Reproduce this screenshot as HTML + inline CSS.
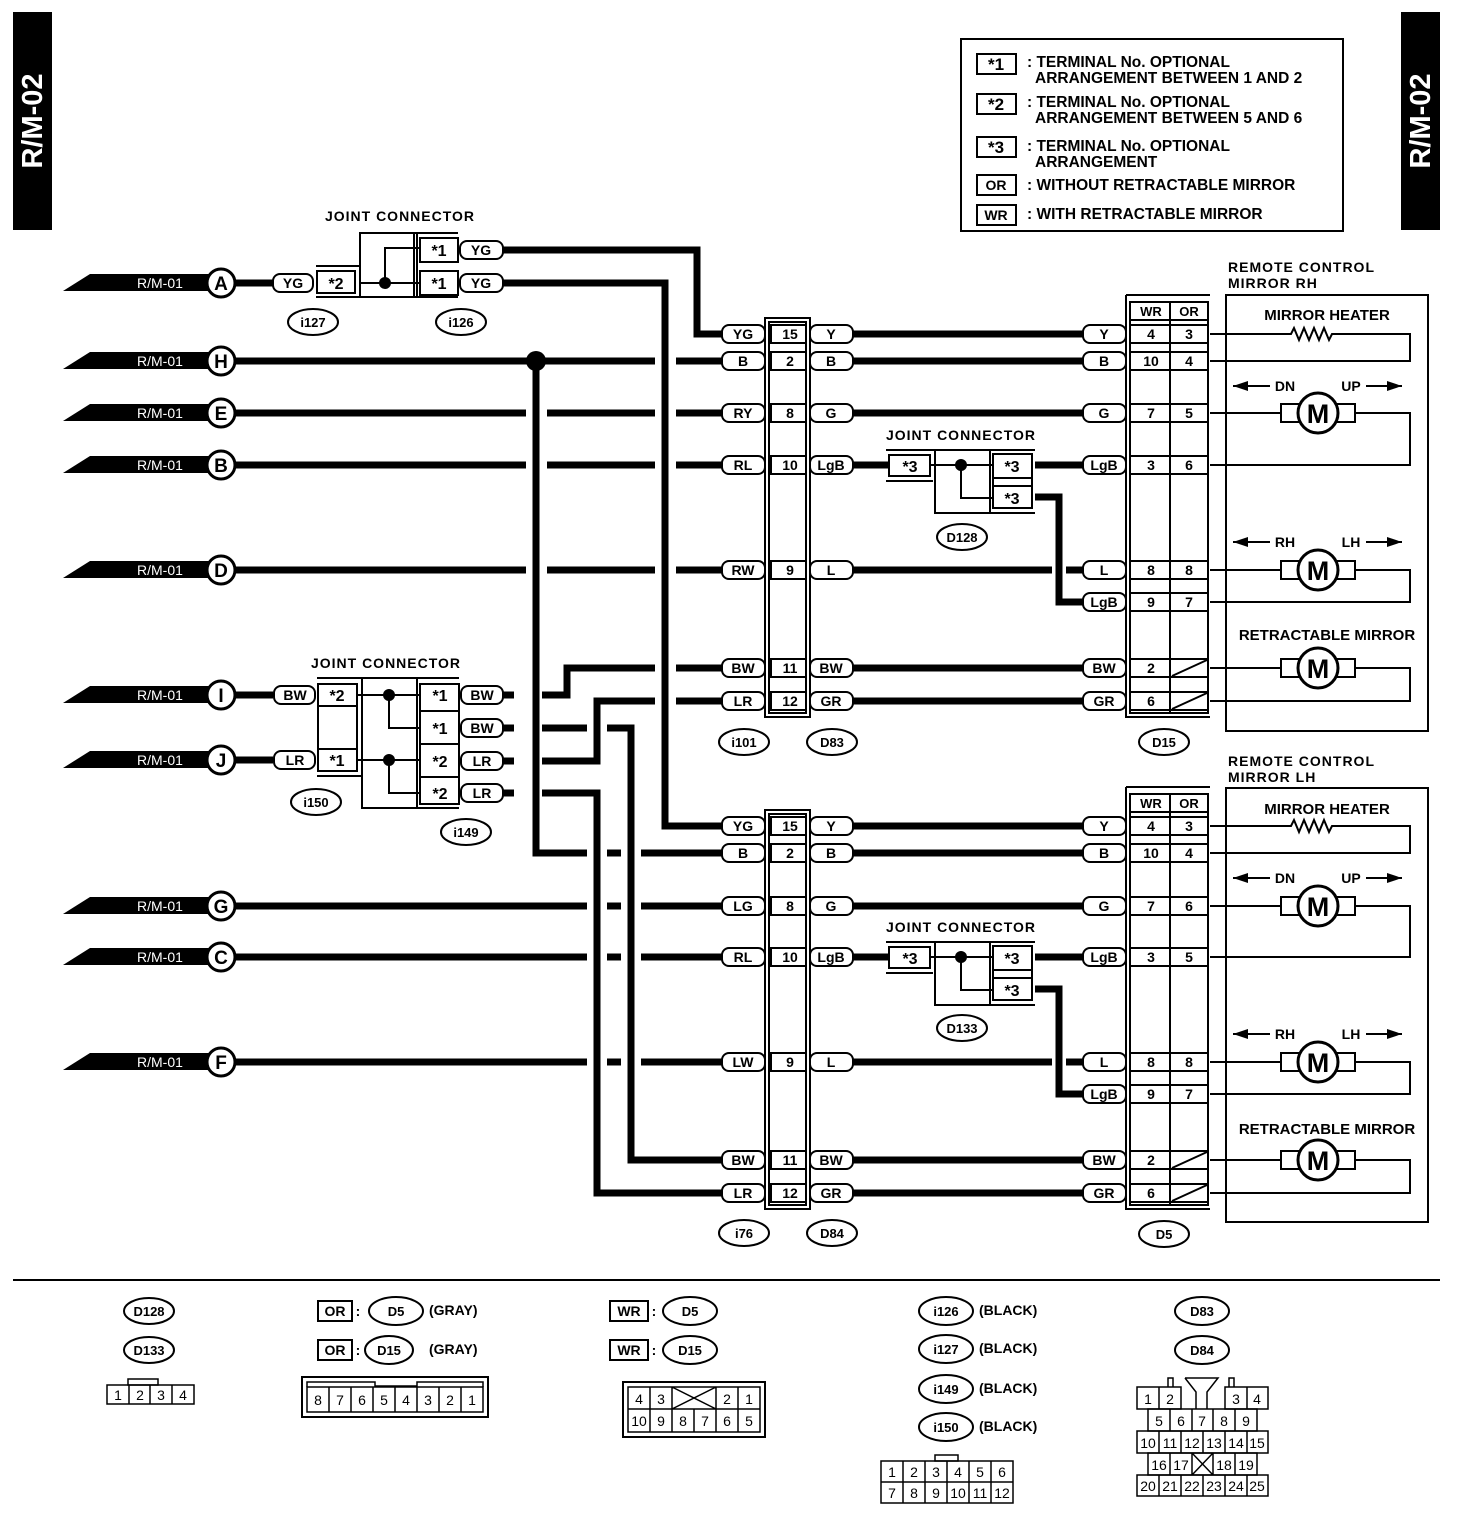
<!DOCTYPE html>
<html><head><meta charset="utf-8"><style>
html,body{margin:0;padding:0;background:#fff}
svg{display:block}
text{font-family:"Liberation Sans",Arial,sans-serif;font-weight:bold;fill:#000}
.w{stroke:#000;stroke-width:7;fill:none}
.t{stroke:#000;stroke-width:2;fill:none}
.p{fill:#fff;stroke:#000;stroke-width:2}
.g{fill:#fff;stroke:none}
.c{text-anchor:middle;font-size:14px}
.s{font-size:14px}
.l{font-size:15.5px}
</style></head><body>
<svg width="1472" height="1518" viewBox="0 0 1472 1518" xmlns="http://www.w3.org/2000/svg">
<!-- side tabs -->
<rect x="13" y="12" width="39" height="218" fill="#000"/>
<text transform="translate(42,121) rotate(-90)" text-anchor="middle" style="fill:#fff;font-size:29px">R/M-02</text>
<rect x="1401" y="12" width="39" height="218" fill="#000"/>
<text transform="translate(1430,121) rotate(-90)" text-anchor="middle" style="fill:#fff;font-size:29px">R/M-02</text>

<!-- legend -->
<rect x="961" y="39" width="382" height="192" class="t"/>
<rect x="977" y="54" width="39" height="20" class="t"/><text x="996" y="70" class="c" style="font-size:17px">*1</text>
<text x="1027" y="67" class="l">: TERMINAL No. OPTIONAL</text><text x="1035" y="83" class="l">ARRANGEMENT BETWEEN 1 AND 2</text>
<rect x="977" y="94" width="39" height="20" class="t"/><text x="996" y="110" class="c" style="font-size:17px">*2</text>
<text x="1027" y="107" class="l">: TERMINAL No. OPTIONAL</text><text x="1035" y="123" class="l">ARRANGEMENT BETWEEN 5 AND 6</text>
<rect x="977" y="137" width="39" height="20" class="t"/><text x="996" y="153" class="c" style="font-size:17px">*3</text>
<text x="1027" y="151" class="l">: TERMINAL No. OPTIONAL</text><text x="1035" y="167" class="l">ARRANGEMENT</text>
<rect x="977" y="175" width="39" height="20" class="t"/><text x="996" y="190" class="c">OR</text>
<text x="1027" y="190" class="l">: WITHOUT RETRACTABLE MIRROR</text>
<rect x="977" y="205" width="39" height="20" class="t"/><text x="996" y="220" class="c">WR</text>
<text x="1027" y="219" class="l">: WITH RETRACTABLE MIRROR</text>

<!-- long horizontal wires -->
<g class="w">
<path d="M235 283H273"/>
<path d="M235 361H722"/><path d="M235 413H722"/><path d="M235 465H722"/><path d="M235 570H722"/>
<path d="M235 695H273"/><path d="M235 760H273"/>
<path d="M235 906H722"/><path d="M235 957H722"/><path d="M235 1062H722"/>
<path d="M503 250H697V334H722"/>
<path d="M503 283H665V826H722"/>
<path d="M503 695H567V668H722"/>
<path d="M503 728H631V1160H722"/>
<path d="M503 761H597V701H722"/>
<path d="M503 793H597V1193H722"/>
<path d="M536 361V853H722"/>
</g>
<!-- gaps -->
<g class="g">
<rect x="655" y="354" width="21" height="14"/><rect x="655" y="406" width="21" height="14"/><rect x="655" y="458" width="21" height="14"/><rect x="655" y="563" width="21" height="14"/><rect x="655" y="661" width="21" height="14"/><rect x="655" y="694" width="21" height="14"/>
<rect x="526" y="406" width="21" height="14"/><rect x="526" y="458" width="21" height="14"/><rect x="526" y="563" width="21" height="14"/>
<rect x="514" y="688" width="28" height="14"/><rect x="514" y="721" width="28" height="14"/><rect x="514" y="754" width="28" height="14"/><rect x="514" y="786" width="28" height="14"/>
<rect x="587" y="721" width="20" height="14"/><rect x="587" y="846" width="20" height="14"/><rect x="587" y="899" width="20" height="14"/><rect x="587" y="950" width="20" height="14"/><rect x="587" y="1055" width="20" height="14"/>
<rect x="621" y="846" width="20" height="14"/><rect x="621" y="899" width="20" height="14"/><rect x="621" y="950" width="20" height="14"/><rect x="621" y="1055" width="20" height="14"/>
</g>
<g class="w">
<path d="M536 361V853"/><path d="M665 283V826"/><path d="M597 701V761"/><path d="M597 793V1193"/><path d="M631 728V1160"/>
</g>
<circle cx="536" cy="361" r="10" fill="#000"/>

<!-- R/M-01 tabs -->
<g>
<polygon points="63,291 90,274 212,274 212,291" fill="#000"/><text x="137" y="288" style="fill:#fff;font-size:14px;font-weight:normal">R/M-01</text><circle cx="221" cy="283" r="14" class="p" style="stroke-width:3"/><text x="221" y="290" class="c" style="font-size:19px">A</text>
<polygon points="63,369 90,352 212,352 212,369" fill="#000"/><text x="137" y="366" style="fill:#fff;font-size:14px;font-weight:normal">R/M-01</text><circle cx="221" cy="361" r="14" class="p" style="stroke-width:3"/><text x="221" y="368" class="c" style="font-size:19px">H</text>
<polygon points="63,421 90,404 212,404 212,421" fill="#000"/><text x="137" y="418" style="fill:#fff;font-size:14px;font-weight:normal">R/M-01</text><circle cx="221" cy="413" r="14" class="p" style="stroke-width:3"/><text x="221" y="420" class="c" style="font-size:19px">E</text>
<polygon points="63,473 90,456 212,456 212,473" fill="#000"/><text x="137" y="470" style="fill:#fff;font-size:14px;font-weight:normal">R/M-01</text><circle cx="221" cy="465" r="14" class="p" style="stroke-width:3"/><text x="221" y="472" class="c" style="font-size:19px">B</text>
<polygon points="63,578 90,561 212,561 212,578" fill="#000"/><text x="137" y="575" style="fill:#fff;font-size:14px;font-weight:normal">R/M-01</text><circle cx="221" cy="570" r="14" class="p" style="stroke-width:3"/><text x="221" y="577" class="c" style="font-size:19px">D</text>
<polygon points="63,703 90,686 212,686 212,703" fill="#000"/><text x="137" y="700" style="fill:#fff;font-size:14px;font-weight:normal">R/M-01</text><circle cx="221" cy="695" r="14" class="p" style="stroke-width:3"/><text x="221" y="702" class="c" style="font-size:19px">I</text>
<polygon points="63,768 90,751 212,751 212,768" fill="#000"/><text x="137" y="765" style="fill:#fff;font-size:14px;font-weight:normal">R/M-01</text><circle cx="221" cy="760" r="14" class="p" style="stroke-width:3"/><text x="221" y="767" class="c" style="font-size:19px">J</text>
<polygon points="63,914 90,897 212,897 212,914" fill="#000"/><text x="137" y="911" style="fill:#fff;font-size:14px;font-weight:normal">R/M-01</text><circle cx="221" cy="906" r="14" class="p" style="stroke-width:3"/><text x="221" y="913" class="c" style="font-size:19px">G</text>
<polygon points="63,965 90,948 212,948 212,965" fill="#000"/><text x="137" y="962" style="fill:#fff;font-size:14px;font-weight:normal">R/M-01</text><circle cx="221" cy="957" r="14" class="p" style="stroke-width:3"/><text x="221" y="964" class="c" style="font-size:19px">C</text>
<polygon points="63,1070 90,1053 212,1053 212,1070" fill="#000"/><text x="137" y="1067" style="fill:#fff;font-size:14px;font-weight:normal">R/M-01</text><circle cx="221" cy="1062" r="14" class="p" style="stroke-width:3"/><text x="221" y="1069" class="c" style="font-size:19px">F</text>
</g>

<!-- joint connector i127/i126 -->
<text x="400" y="221" class="c" style="letter-spacing:1px">JOINT CONNECTOR</text>
<rect x="273" y="274" width="40" height="18" rx="7" class="p"/><text x="293" y="288" class="c">YG</text>
<path d="M316 266H360M316 297H458M360 233H458" class="t"/>
<rect x="317" y="271" width="38" height="22" class="t"/><text x="336" y="289" class="c" style="font-size:16px">*2</text>
<rect x="360" y="233" width="54" height="64" class="t"/>
<path d="M360 283H420M385 283V248H420M417 233V297" class="t"/>
<circle cx="385" cy="283" r="6" fill="#000"/>
<rect x="420" y="238" width="38" height="24" class="t"/><text x="439" y="256" class="c" style="font-size:16px">*1</text>
<rect x="420" y="271" width="38" height="24" class="t"/><text x="439" y="289" class="c" style="font-size:16px">*1</text>
<rect x="460" y="241" width="43" height="18" rx="7" class="p"/><text x="481" y="255" class="c">YG</text>
<rect x="460" y="274" width="43" height="18" rx="7" class="p"/><text x="481" y="288" class="c">YG</text>
<ellipse cx="313" cy="322" rx="25" ry="13" class="p"/><text x="313" y="327" class="c" style="font-size:13px">i127</text>
<ellipse cx="461" cy="322" rx="25" ry="13" class="p"/><text x="461" y="327" class="c" style="font-size:13px">i126</text>

<!-- joint connector i150/i149 -->
<text x="386" y="668" class="c" style="letter-spacing:1px">JOINT CONNECTOR</text>
<rect x="274" y="686" width="41" height="18" rx="7" class="p"/><text x="295" y="700" class="c">BW</text>
<rect x="274" y="751" width="41" height="18" rx="7" class="p"/><text x="295" y="765" class="c">LR</text>
<path d="M317 678H459M317 776H362M362 808H459" class="t"/>
<rect x="318" y="684" width="39" height="22" class="t"/><text x="337" y="701" class="c" style="font-size:16px">*2</text>
<rect x="318" y="749" width="39" height="22" class="t"/><text x="337" y="766" class="c" style="font-size:16px">*1</text>
<path d="M318 706V749M357 706V749" class="t"/>
<rect x="362" y="678" width="55" height="130" class="t"/>
<path d="M357 695H420M389 695V728H420M357 760H420M389 760V793H420" class="t"/>
<circle cx="389" cy="695" r="6" fill="#000"/><circle cx="389" cy="760" r="6" fill="#000"/>
<rect x="420" y="684" width="39" height="120" class="t"/>
<path d="M420 711H459M420 744H459M420 777H459" class="t"/>
<text x="440" y="701" class="c" style="font-size:16px">*1</text><text x="440" y="734" class="c" style="font-size:16px">*1</text><text x="440" y="767" class="c" style="font-size:16px">*2</text><text x="440" y="799" class="c" style="font-size:16px">*2</text>
<rect x="461" y="686" width="42" height="18" rx="7" class="p"/><text x="482" y="700" class="c">BW</text>
<rect x="461" y="719" width="42" height="18" rx="7" class="p"/><text x="482" y="733" class="c">BW</text>
<rect x="461" y="752" width="42" height="18" rx="7" class="p"/><text x="482" y="766" class="c">LR</text>
<rect x="461" y="784" width="42" height="18" rx="7" class="p"/><text x="482" y="798" class="c">LR</text>
<ellipse cx="316" cy="802" rx="25" ry="13" class="p"/><text x="316" y="807" class="c" style="font-size:13px">i150</text>
<ellipse cx="466" cy="832" rx="25" ry="13" class="p"/><text x="466" y="837" class="c" style="font-size:13px">i149</text>

<!-- right wires -->
<g class="w">
<path d="M853 334H1083M853 361H1083M853 413H1083M853 465H889M1035 465H1083M853 570H1052M1066 570H1083M1035 497H1059V602H1083M853 668H1083M853 701H1083"/>
<path d="M853 826H1083M853 853H1083M853 906H1083M853 957H889M1035 957H1083M853 1062H1052M1066 1062H1083M1035 989H1059V1094H1083M853 1160H1083M853 1193H1083"/>
</g>

<!-- i101/D83 connector -->
<g>
<rect x="765" y="318" width="45" height="399" class="t"/><rect x="769" y="322" width="37" height="391" class="t"/>
<rect x="722" y="325" width="43" height="18" rx="7" class="p"/><text x="743" y="339" class="c">YG</text><rect x="771" y="325" width="35" height="18" class="p"/><text x="790" y="339" class="c">15</text><rect x="810" y="325" width="43" height="18" rx="7" class="p"/><text x="831" y="339" class="c">Y</text>
<rect x="722" y="352" width="43" height="18" rx="7" class="p"/><text x="743" y="366" class="c">B</text><rect x="771" y="352" width="35" height="18" class="p"/><text x="790" y="366" class="c">2</text><rect x="810" y="352" width="43" height="18" rx="7" class="p"/><text x="831" y="366" class="c">B</text>
<rect x="722" y="404" width="43" height="18" rx="7" class="p"/><text x="743" y="418" class="c">RY</text><rect x="771" y="404" width="35" height="18" class="p"/><text x="790" y="418" class="c">8</text><rect x="810" y="404" width="43" height="18" rx="7" class="p"/><text x="831" y="418" class="c">G</text>
<rect x="722" y="456" width="43" height="18" rx="7" class="p"/><text x="743" y="470" class="c">RL</text><rect x="771" y="456" width="35" height="18" class="p"/><text x="790" y="470" class="c">10</text><rect x="810" y="456" width="43" height="18" rx="7" class="p"/><text x="831" y="470" class="c">LgB</text>
<rect x="722" y="561" width="43" height="18" rx="7" class="p"/><text x="743" y="575" class="c">RW</text><rect x="771" y="561" width="35" height="18" class="p"/><text x="790" y="575" class="c">9</text><rect x="810" y="561" width="43" height="18" rx="7" class="p"/><text x="831" y="575" class="c">L</text>
<rect x="722" y="659" width="43" height="18" rx="7" class="p"/><text x="743" y="673" class="c">BW</text><rect x="771" y="659" width="35" height="18" class="p"/><text x="790" y="673" class="c">11</text><rect x="810" y="659" width="43" height="18" rx="7" class="p"/><text x="831" y="673" class="c">BW</text>
<rect x="722" y="692" width="43" height="18" rx="7" class="p"/><text x="743" y="706" class="c">LR</text><rect x="771" y="692" width="35" height="18" class="p"/><text x="790" y="706" class="c">12</text><rect x="810" y="692" width="43" height="18" rx="7" class="p"/><text x="831" y="706" class="c">GR</text>
<ellipse cx="744" cy="742" rx="25" ry="13" class="p"/><text x="744" y="747" class="c" style="font-size:13px">i101</text>
<ellipse cx="832" cy="742" rx="25" ry="13" class="p"/><text x="832" y="747" class="c" style="font-size:13px">D83</text>
</g>
<!-- i76/D84 connector -->
<g>
<rect x="765" y="810" width="45" height="399" class="t"/><rect x="769" y="814" width="37" height="391" class="t"/>
<rect x="722" y="817" width="43" height="18" rx="7" class="p"/><text x="743" y="831" class="c">YG</text><rect x="771" y="817" width="35" height="18" class="p"/><text x="790" y="831" class="c">15</text><rect x="810" y="817" width="43" height="18" rx="7" class="p"/><text x="831" y="831" class="c">Y</text>
<rect x="722" y="844" width="43" height="18" rx="7" class="p"/><text x="743" y="858" class="c">B</text><rect x="771" y="844" width="35" height="18" class="p"/><text x="790" y="858" class="c">2</text><rect x="810" y="844" width="43" height="18" rx="7" class="p"/><text x="831" y="858" class="c">B</text>
<rect x="722" y="897" width="43" height="18" rx="7" class="p"/><text x="743" y="911" class="c">LG</text><rect x="771" y="897" width="35" height="18" class="p"/><text x="790" y="911" class="c">8</text><rect x="810" y="897" width="43" height="18" rx="7" class="p"/><text x="831" y="911" class="c">G</text>
<rect x="722" y="948" width="43" height="18" rx="7" class="p"/><text x="743" y="962" class="c">RL</text><rect x="771" y="948" width="35" height="18" class="p"/><text x="790" y="962" class="c">10</text><rect x="810" y="948" width="43" height="18" rx="7" class="p"/><text x="831" y="962" class="c">LgB</text>
<rect x="722" y="1053" width="43" height="18" rx="7" class="p"/><text x="743" y="1067" class="c">LW</text><rect x="771" y="1053" width="35" height="18" class="p"/><text x="790" y="1067" class="c">9</text><rect x="810" y="1053" width="43" height="18" rx="7" class="p"/><text x="831" y="1067" class="c">L</text>
<rect x="722" y="1151" width="43" height="18" rx="7" class="p"/><text x="743" y="1165" class="c">BW</text><rect x="771" y="1151" width="35" height="18" class="p"/><text x="790" y="1165" class="c">11</text><rect x="810" y="1151" width="43" height="18" rx="7" class="p"/><text x="831" y="1165" class="c">BW</text>
<rect x="722" y="1184" width="43" height="18" rx="7" class="p"/><text x="743" y="1198" class="c">LR</text><rect x="771" y="1184" width="35" height="18" class="p"/><text x="790" y="1198" class="c">12</text><rect x="810" y="1184" width="43" height="18" rx="7" class="p"/><text x="831" y="1198" class="c">GR</text>
<ellipse cx="744" cy="1233" rx="25" ry="13" class="p"/><text x="744" y="1238" class="c" style="font-size:13px">i76</text>
<ellipse cx="832" cy="1233" rx="25" ry="13" class="p"/><text x="832" y="1238" class="c" style="font-size:13px">D84</text>
</g>

<!-- D128 joint -->
<g>
<text x="961" y="440" class="c" style="letter-spacing:1px">JOINT CONNECTOR</text>
<path d="M886 450H1035M886 481H933" class="t"/>
<rect x="889" y="455" width="41" height="21" class="t"/><text x="910" y="472" class="c" style="font-size:16px">*3</text>
<path d="M935 450V513H1035M990 450V513M930 465H993M961 465V498H993" class="t"/>
<circle cx="961" cy="465" r="6" fill="#000"/>
<rect x="993" y="454" width="39" height="54" class="t"/><path d="M993 478H1032M993 486H1032" class="t"/>
<text x="1012" y="472" class="c" style="font-size:16px">*3</text><text x="1012" y="504" class="c" style="font-size:16px">*3</text>
<ellipse cx="962" cy="537" rx="25" ry="13" class="p"/><text x="962" y="542" class="c" style="font-size:13px">D128</text>
</g>
<g>
<text x="961" y="932" class="c" style="letter-spacing:1px">JOINT CONNECTOR</text>
<path d="M886 942H1035M886 973H933" class="t"/>
<rect x="889" y="947" width="41" height="21" class="t"/><text x="910" y="964" class="c" style="font-size:16px">*3</text>
<path d="M935 942V1005H1035M990 942V1005M930 957H993M961 957V990H993" class="t"/>
<circle cx="961" cy="957" r="6" fill="#000"/>
<rect x="993" y="946" width="39" height="54" class="t"/><path d="M993 970H1032M993 978H1032" class="t"/>
<text x="1012" y="964" class="c" style="font-size:16px">*3</text><text x="1012" y="996" class="c" style="font-size:16px">*3</text>
<ellipse cx="962" cy="1028" rx="25" ry="13" class="p"/><text x="962" y="1033" class="c" style="font-size:13px">D133</text>
</g>

<!-- D15 -->
<g>
<path d="M1126 295H1210M1126 295V717H1210" class="t"/>
<rect x="1130" y="302" width="78" height="411" class="t"/><path d="M1170 302V713M1130 320H1208" class="t"/>
<text x="1151" y="316" class="c" style="font-size:13px">WR</text><text x="1189" y="316" class="c" style="font-size:13px">OR</text>
<path d="M1130 325H1208M1130 343H1208M1130 352H1208M1130 370H1208M1130 404H1208M1130 422H1208M1130 456H1208M1130 474H1208M1130 561H1208M1130 579H1208M1130 593H1208M1130 611H1208M1130 659H1208M1130 677H1208M1130 692H1208M1130 710H1208" class="t"/>
<path d="M1172 676L1207 660M1172 709L1207 693" class="t"/>
<text x="1151" y="339" class="c">4</text><text x="1189" y="339" class="c">3</text>
<text x="1151" y="366" class="c">10</text><text x="1189" y="366" class="c">4</text>
<text x="1151" y="418" class="c">7</text><text x="1189" y="418" class="c">5</text>
<text x="1151" y="470" class="c">3</text><text x="1189" y="470" class="c">6</text>
<text x="1151" y="575" class="c">8</text><text x="1189" y="575" class="c">8</text>
<text x="1151" y="607" class="c">9</text><text x="1189" y="607" class="c">7</text>
<text x="1151" y="673" class="c">2</text><text x="1151" y="706" class="c">6</text>
<rect x="1083" y="325" width="43" height="18" rx="7" class="p"/><text x="1104" y="339" class="c">Y</text>
<rect x="1083" y="352" width="43" height="18" rx="7" class="p"/><text x="1104" y="366" class="c">B</text>
<rect x="1083" y="404" width="43" height="18" rx="7" class="p"/><text x="1104" y="418" class="c">G</text>
<rect x="1083" y="456" width="43" height="18" rx="7" class="p"/><text x="1104" y="470" class="c">LgB</text>
<rect x="1083" y="561" width="43" height="18" rx="7" class="p"/><text x="1104" y="575" class="c">L</text>
<rect x="1083" y="593" width="43" height="18" rx="7" class="p"/><text x="1104" y="607" class="c">LgB</text>
<rect x="1083" y="659" width="43" height="18" rx="7" class="p"/><text x="1104" y="673" class="c">BW</text>
<rect x="1083" y="692" width="43" height="18" rx="7" class="p"/><text x="1104" y="706" class="c">GR</text>
<ellipse cx="1164" cy="742" rx="25" ry="13" class="p"/><text x="1164" y="747" class="c" style="font-size:13px">D15</text>
</g>
<!-- D5 -->
<g>
<path d="M1126 787H1210M1126 787V1209H1210" class="t"/>
<rect x="1130" y="794" width="78" height="411" class="t"/><path d="M1170 794V1205M1130 812H1208" class="t"/>
<text x="1151" y="808" class="c" style="font-size:13px">WR</text><text x="1189" y="808" class="c" style="font-size:13px">OR</text>
<path d="M1130 817H1208M1130 835H1208M1130 844H1208M1130 862H1208M1130 897H1208M1130 915H1208M1130 948H1208M1130 966H1208M1130 1053H1208M1130 1071H1208M1130 1085H1208M1130 1103H1208M1130 1151H1208M1130 1169H1208M1130 1184H1208M1130 1202H1208" class="t"/>
<path d="M1172 1168L1207 1152M1172 1201L1207 1185" class="t"/>
<text x="1151" y="831" class="c">4</text><text x="1189" y="831" class="c">3</text>
<text x="1151" y="858" class="c">10</text><text x="1189" y="858" class="c">4</text>
<text x="1151" y="911" class="c">7</text><text x="1189" y="911" class="c">6</text>
<text x="1151" y="962" class="c">3</text><text x="1189" y="962" class="c">5</text>
<text x="1151" y="1067" class="c">8</text><text x="1189" y="1067" class="c">8</text>
<text x="1151" y="1099" class="c">9</text><text x="1189" y="1099" class="c">7</text>
<text x="1151" y="1165" class="c">2</text><text x="1151" y="1198" class="c">6</text>
<rect x="1083" y="817" width="43" height="18" rx="7" class="p"/><text x="1104" y="831" class="c">Y</text>
<rect x="1083" y="844" width="43" height="18" rx="7" class="p"/><text x="1104" y="858" class="c">B</text>
<rect x="1083" y="897" width="43" height="18" rx="7" class="p"/><text x="1104" y="911" class="c">G</text>
<rect x="1083" y="948" width="43" height="18" rx="7" class="p"/><text x="1104" y="962" class="c">LgB</text>
<rect x="1083" y="1053" width="43" height="18" rx="7" class="p"/><text x="1104" y="1067" class="c">L</text>
<rect x="1083" y="1085" width="43" height="18" rx="7" class="p"/><text x="1104" y="1099" class="c">LgB</text>
<rect x="1083" y="1151" width="43" height="18" rx="7" class="p"/><text x="1104" y="1165" class="c">BW</text>
<rect x="1083" y="1184" width="43" height="18" rx="7" class="p"/><text x="1104" y="1198" class="c">GR</text>
<ellipse cx="1164" cy="1234" rx="25" ry="13" class="p"/><text x="1164" y="1239" class="c" style="font-size:13px">D5</text>
</g>

<!-- mirror RH -->
<g>
<text x="1228" y="272" class="s" style="letter-spacing:1px">REMOTE CONTROL</text><text x="1228" y="288" class="s" style="letter-spacing:1px">MIRROR RH</text>
<rect x="1226" y="295" width="202" height="436" class="t"/>
<text x="1327" y="320" class="c" style="font-size:15px">MIRROR HEATER</text>
<path d="M1210 334H1291l3 -6 5 12 5 -12 5 12 5 -12 5 12 5 -12 5 12 3 -6H1410V361H1210" class="t"/>
<path d="M1233 386H1270M1366 386H1402" class="t"/><polygon points="1233,386 1248,381 1248,391"/><polygon points="1402,386 1387,381 1387,391"/>
<text x="1285" y="391" class="c">DN</text><text x="1351" y="391" class="c">UP</text>
<path d="M1210 413H1281M1355 413H1410V465H1210" class="t"/>
<rect x="1281" y="404" width="74" height="18" class="t"/><circle cx="1318" cy="413" r="20" class="p" style="stroke-width:3"/><text x="1318" y="423" class="c" style="font-size:27px">M</text>
<path d="M1233 542H1270M1366 542H1402" class="t"/><polygon points="1233,542 1248,537 1248,547"/><polygon points="1402,542 1387,537 1387,547"/>
<text x="1285" y="547" class="c">RH</text><text x="1351" y="547" class="c">LH</text>
<path d="M1210 570H1281M1355 570H1410V602H1210" class="t"/>
<rect x="1281" y="561" width="74" height="18" class="t"/><circle cx="1318" cy="570" r="20" class="p" style="stroke-width:3"/><text x="1318" y="580" class="c" style="font-size:27px">M</text>
<text x="1327" y="640" class="c" style="font-size:15px">RETRACTABLE MIRROR</text>
<path d="M1210 668H1281M1355 668H1410V701H1210" class="t"/>
<rect x="1281" y="659" width="74" height="18" class="t"/><circle cx="1318" cy="668" r="20" class="p" style="stroke-width:3"/><text x="1318" y="678" class="c" style="font-size:27px">M</text>
</g>
<!-- mirror LH -->
<g>
<text x="1228" y="766" class="s" style="letter-spacing:1px">REMOTE CONTROL</text><text x="1228" y="782" class="s" style="letter-spacing:1px">MIRROR LH</text>
<rect x="1226" y="788" width="202" height="434" class="t"/>
<text x="1327" y="814" class="c" style="font-size:15px">MIRROR HEATER</text>
<path d="M1210 826H1291l3 -6 5 12 5 -12 5 12 5 -12 5 12 5 -12 5 12 3 -6H1410V853H1210" class="t"/>
<path d="M1233 878H1270M1366 878H1402" class="t"/><polygon points="1233,878 1248,873 1248,883"/><polygon points="1402,878 1387,873 1387,883"/>
<text x="1285" y="883" class="c">DN</text><text x="1351" y="883" class="c">UP</text>
<path d="M1210 906H1281M1355 906H1410V957H1210" class="t"/>
<rect x="1281" y="897" width="74" height="18" class="t"/><circle cx="1318" cy="906" r="20" class="p" style="stroke-width:3"/><text x="1318" y="916" class="c" style="font-size:27px">M</text>
<path d="M1233 1034H1270M1366 1034H1402" class="t"/><polygon points="1233,1034 1248,1029 1248,1039"/><polygon points="1402,1034 1387,1029 1387,1039"/>
<text x="1285" y="1039" class="c">RH</text><text x="1351" y="1039" class="c">LH</text>
<path d="M1210 1062H1281M1355 1062H1410V1094H1210" class="t"/>
<rect x="1281" y="1053" width="74" height="18" class="t"/><circle cx="1318" cy="1062" r="20" class="p" style="stroke-width:3"/><text x="1318" y="1072" class="c" style="font-size:27px">M</text>
<text x="1327" y="1134" class="c" style="font-size:15px">RETRACTABLE MIRROR</text>
<path d="M1210 1160H1281M1355 1160H1410V1193H1210" class="t"/>
<rect x="1281" y="1151" width="74" height="18" class="t"/><circle cx="1318" cy="1160" r="20" class="p" style="stroke-width:3"/><text x="1318" y="1170" class="c" style="font-size:27px">M</text>
</g>

<!-- bottom -->
<path d="M13 1280H1440" stroke="#000" stroke-width="2"/>
<g style="font-size:13px">
<ellipse cx="149" cy="1311" rx="25" ry="13" class="p"/><text x="149" y="1316" class="c" style="font-size:13px">D128</text>
<ellipse cx="149" cy="1350" rx="25" ry="13" class="p"/><text x="149" y="1355" class="c" style="font-size:13px">D133</text>
<rect x="128" y="1379" width="30" height="6" class="t" style="stroke-width:1.5"/>
<rect x="107" y="1385" width="87" height="19" class="t" style="stroke-width:1.5"/>
<path d="M129 1385V1404M150 1385V1404M172 1385V1404" class="t" style="stroke-width:1.5"/>
<text x="118" y="1400" class="c" style="font-weight:normal">1</text><text x="140" y="1400" class="c" style="font-weight:normal">2</text><text x="161" y="1400" class="c" style="font-weight:normal">3</text><text x="183" y="1400" class="c" style="font-weight:normal">4</text>

<rect x="318" y="1301" width="34" height="20" class="t"/><text x="335" y="1316" class="c">OR</text><text x="358" y="1316" class="c">:</text>
<ellipse cx="396" cy="1311" rx="27" ry="14" class="p"/><text x="396" y="1316" class="c" style="font-size:13px">D5</text><text x="429" y="1315" class="s">(GRAY)</text>
<rect x="318" y="1340" width="34" height="20" class="t"/><text x="335" y="1355" class="c">OR</text><text x="358" y="1355" class="c">:</text>
<ellipse cx="389" cy="1350" rx="24" ry="14" class="p"/><text x="389" y="1355" class="c" style="font-size:13px">D15</text><text x="429" y="1354" class="s">(GRAY)</text>
<rect x="302" y="1377" width="186" height="40" class="t"/>
<path d="M307 1387V1382H375V1386H417V1382H483V1387" class="t" style="stroke-width:1.5"/>
<rect x="307" y="1387" width="176" height="25" class="t" style="stroke-width:1.5"/>
<path d="M329 1387V1412M351 1387V1412M373 1387V1412M395 1387V1412M417 1387V1412M439 1387V1412M461 1387V1412" class="t" style="stroke-width:1.5"/>
<text x="318" y="1405" class="c" style="font-weight:normal">8</text><text x="340" y="1405" class="c" style="font-weight:normal">7</text><text x="362" y="1405" class="c" style="font-weight:normal">6</text><text x="384" y="1405" class="c" style="font-weight:normal">5</text><text x="406" y="1405" class="c" style="font-weight:normal">4</text><text x="428" y="1405" class="c" style="font-weight:normal">3</text><text x="450" y="1405" class="c" style="font-weight:normal">2</text><text x="472" y="1405" class="c" style="font-weight:normal">1</text>

<rect x="610" y="1301" width="38" height="20" class="t"/><text x="629" y="1316" class="c">WR</text><text x="654" y="1316" class="c">:</text>
<ellipse cx="690" cy="1311" rx="27" ry="14" class="p"/><text x="690" y="1316" class="c" style="font-size:13px">D5</text>
<rect x="610" y="1340" width="38" height="20" class="t"/><text x="629" y="1355" class="c">WR</text><text x="654" y="1355" class="c">:</text>
<ellipse cx="690" cy="1350" rx="27" ry="14" class="p"/><text x="690" y="1355" class="c" style="font-size:13px">D15</text>
<rect x="623" y="1382" width="142" height="55" class="t"/>
<rect x="628" y="1387" width="132" height="45" class="t" style="stroke-width:1.5"/>
<path d="M628 1409H760M650 1387V1432M672 1387V1409M716 1387V1409M738 1387V1432M672 1409V1432M694 1409V1432M716 1409V1432M672 1387L716 1409M716 1387L672 1409" class="t" style="stroke-width:1.5"/>
<text x="639" y="1404" class="c" style="font-weight:normal">4</text><text x="661" y="1404" class="c" style="font-weight:normal">3</text><text x="727" y="1404" class="c" style="font-weight:normal">2</text><text x="749" y="1404" class="c" style="font-weight:normal">1</text>
<text x="639" y="1426" class="c" style="font-weight:normal">10</text><text x="661" y="1426" class="c" style="font-weight:normal">9</text><text x="683" y="1426" class="c" style="font-weight:normal">8</text><text x="705" y="1426" class="c" style="font-weight:normal">7</text><text x="727" y="1426" class="c" style="font-weight:normal">6</text><text x="749" y="1426" class="c" style="font-weight:normal">5</text>

<ellipse cx="946" cy="1311" rx="27" ry="14" class="p"/><text x="946" y="1316" class="c" style="font-size:13px">i126</text><text x="979" y="1315" class="s">(BLACK)</text>
<ellipse cx="946" cy="1349" rx="27" ry="14" class="p"/><text x="946" y="1354" class="c" style="font-size:13px">i127</text><text x="979" y="1353" class="s">(BLACK)</text>
<ellipse cx="946" cy="1389" rx="27" ry="14" class="p"/><text x="946" y="1394" class="c" style="font-size:13px">i149</text><text x="979" y="1393" class="s">(BLACK)</text>
<ellipse cx="946" cy="1427" rx="27" ry="14" class="p"/><text x="946" y="1432" class="c" style="font-size:13px">i150</text><text x="979" y="1431" class="s">(BLACK)</text>
<rect x="935" y="1455" width="23" height="6" class="t" style="stroke-width:1.5"/>
<rect x="881" y="1461" width="132" height="42" class="t" style="stroke-width:1.5"/>
<path d="M881 1482H1013M903 1461V1503M925 1461V1503M947 1461V1503M969 1461V1503M991 1461V1503" class="t" style="stroke-width:1.5"/>
<text x="892" y="1477" class="c" style="font-weight:normal">1</text><text x="914" y="1477" class="c" style="font-weight:normal">2</text><text x="936" y="1477" class="c" style="font-weight:normal">3</text><text x="958" y="1477" class="c" style="font-weight:normal">4</text><text x="980" y="1477" class="c" style="font-weight:normal">5</text><text x="1002" y="1477" class="c" style="font-weight:normal">6</text>
<text x="892" y="1498" class="c" style="font-weight:normal">7</text><text x="914" y="1498" class="c" style="font-weight:normal">8</text><text x="936" y="1498" class="c" style="font-weight:normal">9</text><text x="958" y="1498" class="c" style="font-weight:normal">10</text><text x="980" y="1498" class="c" style="font-weight:normal">11</text><text x="1002" y="1498" class="c" style="font-weight:normal">12</text>

<ellipse cx="1202" cy="1311" rx="27" ry="14" class="p"/><text x="1202" y="1316" class="c" style="font-size:13px">D83</text>
<ellipse cx="1202" cy="1350" rx="27" ry="14" class="p"/><text x="1202" y="1355" class="c" style="font-size:13px">D84</text>
<g class="t" style="stroke-width:1.5">
<path d="M1168 1387V1378H1173V1387M1229 1387V1378H1234V1387"/>
<path d="M1185 1378H1218L1207 1392V1409M1185 1378L1196 1392V1409"/>
<path d="M1137 1387H1181V1409H1137ZM1159 1387V1409M1225 1387H1268V1409H1225ZM1247 1387V1409"/>
<path d="M1148 1409H1257V1431H1148ZM1170 1409V1431M1192 1409V1431M1213 1409V1431M1235 1409V1431"/>
<path d="M1137 1431H1268V1453H1137ZM1159 1431V1453M1181 1431V1453M1203 1431V1453M1225 1431V1453M1247 1431V1453"/>
<path d="M1148 1453H1257V1475H1148ZM1170 1453V1475M1192 1453V1475M1213 1453V1475M1235 1453V1475M1192 1453L1213 1475M1213 1453L1192 1475"/>
<path d="M1137 1475H1268V1496H1137ZM1159 1475V1496M1181 1475V1496M1203 1475V1496M1225 1475V1496M1247 1475V1496"/>
</g>
<text x="1148" y="1404" class="c" style="font-weight:normal">1</text><text x="1170" y="1404" class="c" style="font-weight:normal">2</text><text x="1236" y="1404" class="c" style="font-weight:normal">3</text><text x="1257" y="1404" class="c" style="font-weight:normal">4</text>
<text x="1159" y="1426" class="c" style="font-weight:normal">5</text><text x="1181" y="1426" class="c" style="font-weight:normal">6</text><text x="1202" y="1426" class="c" style="font-weight:normal">7</text><text x="1224" y="1426" class="c" style="font-weight:normal">8</text><text x="1246" y="1426" class="c" style="font-weight:normal">9</text>
<text x="1148" y="1448" class="c" style="font-weight:normal">10</text><text x="1170" y="1448" class="c" style="font-weight:normal">11</text><text x="1192" y="1448" class="c" style="font-weight:normal">12</text><text x="1214" y="1448" class="c" style="font-weight:normal">13</text><text x="1236" y="1448" class="c" style="font-weight:normal">14</text><text x="1257" y="1448" class="c" style="font-weight:normal">15</text>
<text x="1159" y="1470" class="c" style="font-weight:normal">16</text><text x="1181" y="1470" class="c" style="font-weight:normal">17</text><text x="1224" y="1470" class="c" style="font-weight:normal">18</text><text x="1246" y="1470" class="c" style="font-weight:normal">19</text>
<text x="1148" y="1491" class="c" style="font-weight:normal">20</text><text x="1170" y="1491" class="c" style="font-weight:normal">21</text><text x="1192" y="1491" class="c" style="font-weight:normal">22</text><text x="1214" y="1491" class="c" style="font-weight:normal">23</text><text x="1236" y="1491" class="c" style="font-weight:normal">24</text><text x="1257" y="1491" class="c" style="font-weight:normal">25</text>
</g>
</svg>
</body></html>
